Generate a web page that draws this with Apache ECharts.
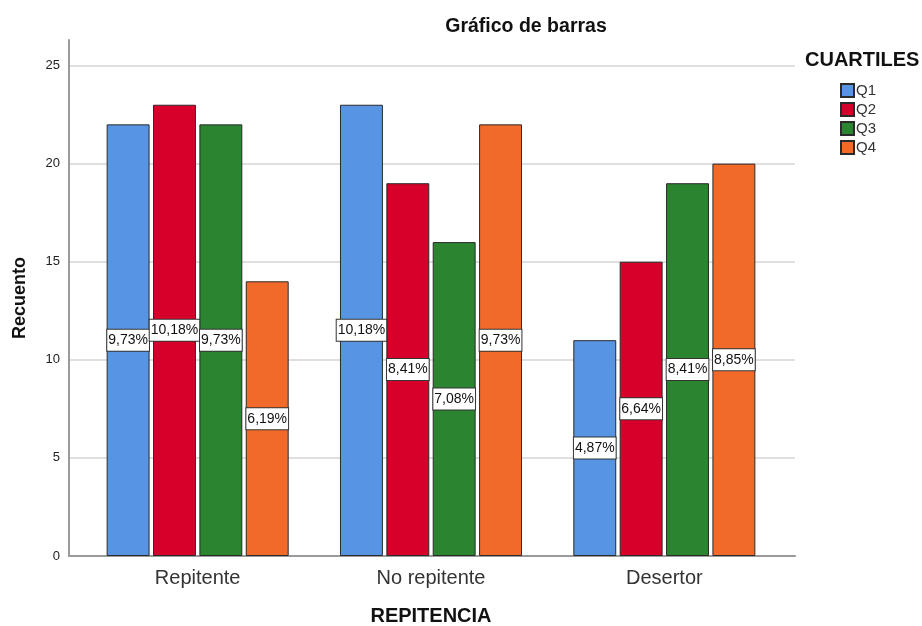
<!DOCTYPE html>
<html>
<head>
<meta charset="utf-8">
<script src="https://cdn.jsdelivr.net/npm/echarts@6/dist/echarts.min.js"></script>
<style>html,body{margin:0;padding:0;background:#fff}#c{width:922px;height:626px}</style>
</head>
<body>
<div id="c"></div>
<script>
var categories = ['Repitente', 'No repitente', 'Desertor'];
var seriesNames = ['Q1', 'Q2', 'Q3', 'Q4'];
var q1 = [22, 23, 11];
var q2 = [23, 19, 15];
var q3 = [22, 16, 19];
var q4 = [14, 22, 20];
var q1Labels = ['9,73%', '10,18%', '4,87%'];
var q2Labels = ['10,18%', '8,41%', '6,64%'];
var q3Labels = ['9,73%', '7,08%', '8,41%'];
var q4Labels = ['6,19%', '9,73%', '8,85%'];
var colors = ['#5795e2', '#d7002b', '#2a8430', '#f26a2a'];
var yTicks = [0, 5, 10, 15, 20, 25];

var FONT = 'Liberation Sans, Arial, sans-serif';
var values = [q1, q2, q3, q4];
var labels = [q1Labels, q2Labels, q3Labels, q4Labels];

var series = seriesNames.map(function (name, i) {
  return {
    name: name,
    type: 'bar',
    xAxisIndex: 1,
    yAxisIndex: 1,
    barWidth: '18.4%',
    barGap: '8%',
    data: values[i],
    itemStyle: { color: colors[i], borderColor: '#2a2a2a', borderWidth: 1 },
    label: {
      show: true,
      position: 'inside',
      formatter: function (p) { return labels[i][p.dataIndex]; },
      color: '#111',
      fontFamily: FONT,
      fontSize: 14,
      lineHeight: 16,
      backgroundColor: '#fff',
      borderColor: '#333',
      borderWidth: 1,
      padding: [3, 1, 2, 1]
    },
    emphasis: { disabled: true }
  };
});

var chart = echarts.init(document.getElementById('c'), null, { renderer: 'canvas' });
chart.setOption({
  animation: false,
  backgroundColor: '#fff',
  color: colors,
  title: [
    { text: 'Gráfico de barras', left: 521, top: 12, textAlign: 'center',
      textStyle: { fontFamily: FONT, fontSize: 19.5, fontWeight: 'bold', color: '#111' } },
    { text: 'CUARTILES', left: 800, top: 45,
      textStyle: { fontFamily: FONT, fontSize: 20, fontWeight: 'bold', color: '#111' } }
  ],
  legend: {
    orient: 'vertical',
    left: 835,
    top: 78,
    itemWidth: 13,
    itemHeight: 13,
    itemGap: 4,
    icon: 'rect',
    data: seriesNames,
    textStyle: { fontFamily: FONT, fontSize: 15, lineHeight: 13, color: '#333', padding: [0, 0, 0, -3] }
  },
  grid: [
    { left: 69, right: 127, top: 40, bottom: 70, outerBoundsMode: 'none' },
    { left: 81, right: 141, top: 40, bottom: 70, outerBoundsMode: 'none' }
  ],
  xAxis: [
    { gridIndex: 0, type: 'value', min: 0, max: 1,
      axisLine: { show: true, lineStyle: { color: '#9a9a9a', width: 2 } },
      axisTick: { show: false }, axisLabel: { show: false }, splitLine: { show: false } },
    { gridIndex: 1, type: 'category', data: categories,
      axisLine: { show: false }, axisTick: { show: false },
      axisLabel: { fontFamily: FONT, fontSize: 20, color: '#333', margin: 12 },
      name: 'REPITENCIA', nameLocation: 'middle', nameGap: 50, nameMoveOverlap: false,
      nameTextStyle: { fontFamily: FONT, fontSize: 20, fontWeight: 'bold', color: '#111' } }
  ],
  yAxis: [
    { gridIndex: 0, type: 'value', min: 0, max: 26.3, interval: 5,
      axisLine: { show: true, lineStyle: { color: '#9a9a9a', width: 2 } },
      axisTick: { show: false },
      axisLabel: { fontFamily: FONT, fontSize: 13, color: '#222', margin: 9, showMaxLabel: false,
        formatter: function (v) { return yTicks.indexOf(v) >= 0 ? String(v) : ''; } },
      splitLine: { show: true, showMaxLine: false, lineStyle: { color: '#d4d4d4', width: 1.5 } },
      name: 'Recuento', nameLocation: 'middle', nameGap: 40, nameRotate: 90, nameMoveOverlap: false,
      nameTextStyle: { fontFamily: FONT, fontSize: 18, fontWeight: 'bold', color: '#111' } },
    { gridIndex: 1, type: 'value', min: 0, max: 26.3, show: false, splitLine: { show: false } }
  ],
  series: series
});
</script>
</body>
</html>
